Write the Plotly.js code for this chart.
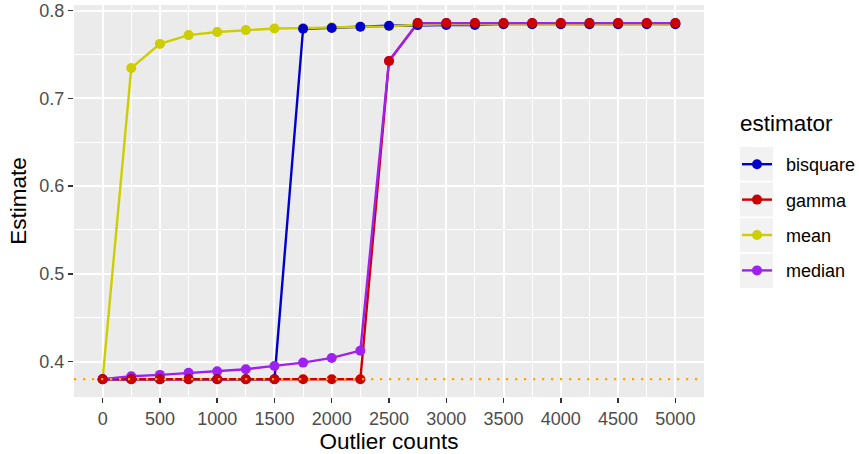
<!DOCTYPE html>
<html>
<head>
<meta charset="utf-8">
<script src="https://cdn.plot.ly/plotly-3.0.1.min.js"></script>
<style>html,body{margin:0;padding:0;background:#fff}#chart{width:859px;height:454px}</style>
</head>
<body>
<div id="chart"></div>
<script>
const outlierCounts = [0,250,500,750,1000,1250,1500,1750,2000,2250,2500,2750,3000,3250,3500,3750,4000,4250,4500,4750,5000];
const bisquare = [0.38,0.38,0.38,0.38,0.38,0.38,0.38,0.7792,0.780,0.7815,0.7826,0.7834,0.7835,0.7835,0.7845,0.7845,0.7845,0.7845,0.7845,0.7845,0.7845];
const gamma    = [0.38,0.38,0.38,0.38,0.38,0.38,0.38,0.38,0.38,0.38,0.7425,0.7857,0.7857,0.7857,0.7857,0.7857,0.7857,0.7857,0.7857,0.7857,0.7857];
const meanEst  = [0.38,0.7345,0.762,0.772,0.7755,0.7777,0.7796,0.780,0.781,0.7815,0.782,0.7838,0.7842,0.7843,0.7844,0.7845,0.7845,0.7845,0.7845,0.7845,0.7845];
const median   = [0.38,0.3834,0.3849,0.3872,0.3891,0.3914,0.3951,0.3989,0.4042,0.4125,0.7425,0.7857,0.7857,0.7857,0.7857,0.7857,0.7857,0.7857,0.7857,0.7857,0.7857];
const seriesNames = ['bisquare','gamma','mean','median'];
const seriesValues = [bisquare, gamma, meanEst, median];
const seriesColors = ['#0000CD','#CD0000','#CDCD00','#A020F0'];
const markerDrawOrder = [2,3,0,1]; // mean, median, bisquare, gamma (gamma on top)
const referenceLevel = [0.38];
const xTickValues = [0,500,1000,1500,2000,2500,3000,3500,4000,4500,5000];
const xMinorValues = [250,750,1250,1750,2250,2750,3250,3750,4250,4750];
const yTickValues = [0.4,0.5,0.6,0.7,0.8];
const yMinorValues = [0.45,0.55,0.65,0.75];
const legendTitle = 'estimator';

const W=859,H=454,ML=74,MR=155,MT=5.3,MB=56.7;
const cX = px => px/W;
const cY = py => 1-py/H;

const traces = [];
seriesNames.forEach((n,i)=>{
  traces.push({x:outlierCounts,y:seriesValues[i],type:'scatter',mode:'lines',name:n,
    line:{color:seriesColors[i],width:2.4},showlegend:false,hoverinfo:'skip',legendgroup:n});
});
markerDrawOrder.forEach(i=>{
  const n=seriesNames[i];
  traces.push({x:outlierCounts,y:seriesValues[i],type:'scatter',mode:'markers',name:n,
    marker:{color:seriesColors[i],size:10},showlegend:false,legendgroup:n});
});
seriesNames.forEach((n,i)=>{
  traces.push({x:[null],y:[null],type:'scatter',mode:'lines+markers',name:'\u2002'+n,
    line:{color:seriesColors[i],width:2.4},marker:{color:seriesColors[i],size:10},
    showlegend:true,legendgroup:n});
});

const shapes = [{type:'line',xref:'paper',x0:0,x1:1,yref:'y',y0:referenceLevel[0],y1:referenceLevel[0],
  line:{color:'#FFA500',width:2.2,dash:'2.2px,6.8px'},layer:'above'}];
const PW=W-ML-MR, PH=H-MT-MB;
const pxX = px => (px-ML)/PW;
const pxY = py => 1-(py-MT)/PH;
for(let i=0;i<4;i++){
  const top=147+i*35.8;
  shapes.push({type:'rect',xref:'paper',yref:'paper',x0:pxX(740),x1:pxX(773),
    y0:pxY(top+34),y1:pxY(top),fillcolor:'#F2F2F2',line:{width:0},layer:'below'});
}

const layout = {
  width:W,height:H,
  margin:{l:ML,r:MR,t:MT,b:MB,pad:0},
  paper_bgcolor:'#FFFFFF',plot_bgcolor:'#EBEBEB',
  font:{family:'Liberation Sans, Arial, sans-serif',color:'#4D4D4D',size:18},
  xaxis:{range:[-250,5250],tickvals:xTickValues,ticktext:xTickValues.map(String),
    showgrid:true,gridcolor:'#FFFFFF',gridwidth:2,zeroline:false,showline:false,
    ticks:'outside',ticklen:5,tickwidth:1.5,tickcolor:'#333333',
    tickfont:{size:18,color:'#4D4D4D'},
    minor:{tickvals:xMinorValues,showgrid:true,gridcolor:'#FFFFFF',gridwidth:1,ticks:''},
    title:{text:'Outlier counts',font:{size:22.5,color:'#000000'},standoff:4}},
  yaxis:{range:[0.3597,0.8063],tickvals:yTickValues,ticktext:yTickValues.map(v=>v.toFixed(1)),
    showgrid:true,gridcolor:'#FFFFFF',gridwidth:2,zeroline:false,showline:false,
    ticks:'outside',ticklen:5,tickwidth:1.5,tickcolor:'#333333',
    tickfont:{size:18,color:'#4D4D4D'},
    minor:{tickvals:yMinorValues,showgrid:true,gridcolor:'#FFFFFF',gridwidth:1,ticks:''},
    title:{text:'Estimate',font:{size:22.5,color:'#000000'},standoff:6}},
  showlegend:true,
  legend:{xref:'container',yref:'container',x:cX(737),xanchor:'left',y:cY(146),yanchor:'top',
    bgcolor:'rgba(0,0,0,0)',font:{size:18,color:'#000000'},tracegroupgap:9,itemwidth:30},
  annotations:[{text:legendTitle,xref:'paper',yref:'paper',x:pxX(738),y:pxY(124),xanchor:'left',yanchor:'middle',
    showarrow:false,font:{size:22.5,color:'#000000'}}],
  shapes:shapes
};
Plotly.newPlot('chart',traces,layout,{displayModeBar:false,staticPlot:true});
</script>
</body>
</html>
